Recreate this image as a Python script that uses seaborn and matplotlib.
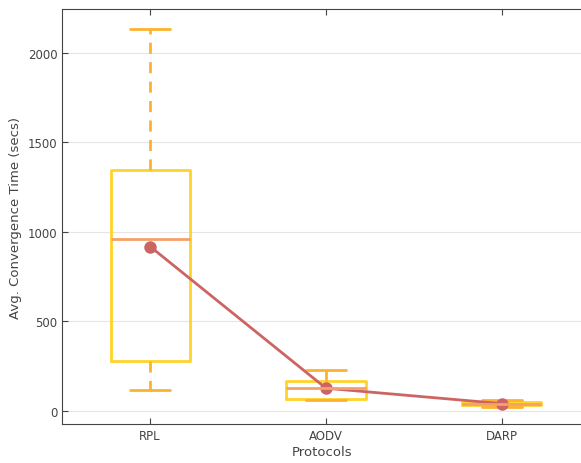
import matplotlib
matplotlib.use("Agg")
import matplotlib.pyplot as plt
import seaborn as sns
import pandas as pd

# values
protocols = ["RPL", "AODV", "DARP"]
whisker_low = [117, 60, 22]
q1 = [278, 67, 32]
median = [961, 128, 38]
q3 = [1344, 167, 46]
whisker_high = [2130, 228, 60]
mean_time = [917, 125, 39]

sns.set_style("white")
plt.rcParams["font.family"] = ["DejaVu Sans"]

fig = plt.figure(figsize=(5.81, 4.64), dpi=100)
ax = fig.add_axes([0.107, 0.084, 0.893, 0.894])

stats = []
for i, name in enumerate(protocols):
    stats.append({"label": name, "whislo": whisker_low[i], "q1": q1[i], "med": median[i],
                  "q3": q3[i], "whishi": whisker_high[i], "fliers": []})

ax.bxp(stats, positions=range(len(protocols)), widths=0.45, showfliers=False,
       boxprops=dict(color="#FFD42A", linewidth=2),
       whiskerprops=dict(color="#FDB22E", linewidth=2, linestyle=(0, (4, 3))),
       capprops=dict(color="#FDB22E", linewidth=2),
       medianprops=dict(color="#F5A06A", linewidth=2))

df = pd.DataFrame({"x": range(len(protocols)), "mean": mean_time})
sns.lineplot(data=df, x="x", y="mean", ax=ax, color="#CD6464", linewidth=2,
             marker="o", markersize=9, markeredgewidth=0)

ax.set_xticks(range(len(protocols)))
ax.set_xticklabels(protocols)
ax.set_xlim(-0.5, 2.45)
ax.set_ylim(-75, 2243)
ax.set_yticks([0, 500, 1000, 1500, 2000])
ax.yaxis.grid(True, color="#E5E5E5", linewidth=0.8)
ax.set_axisbelow(True)
ax.tick_params(axis="both", direction="in", length=4, width=0.8, labelsize=8.5,
               colors="#444444", bottom=True, top=True, left=True, right=False)
for s in ax.spines.values():
    s.set_color("#444444")
    s.set_linewidth(0.8)
ax.spines["right"].set_visible(False)
ax.set_xlabel("Protocols", fontsize=9.5, color="#444444", labelpad=2)
ax.set_ylabel("Avg. Convergence Time (secs)", fontsize=9.5, color="#444444", labelpad=4)

fig.savefig("out.png", dpi=100)
